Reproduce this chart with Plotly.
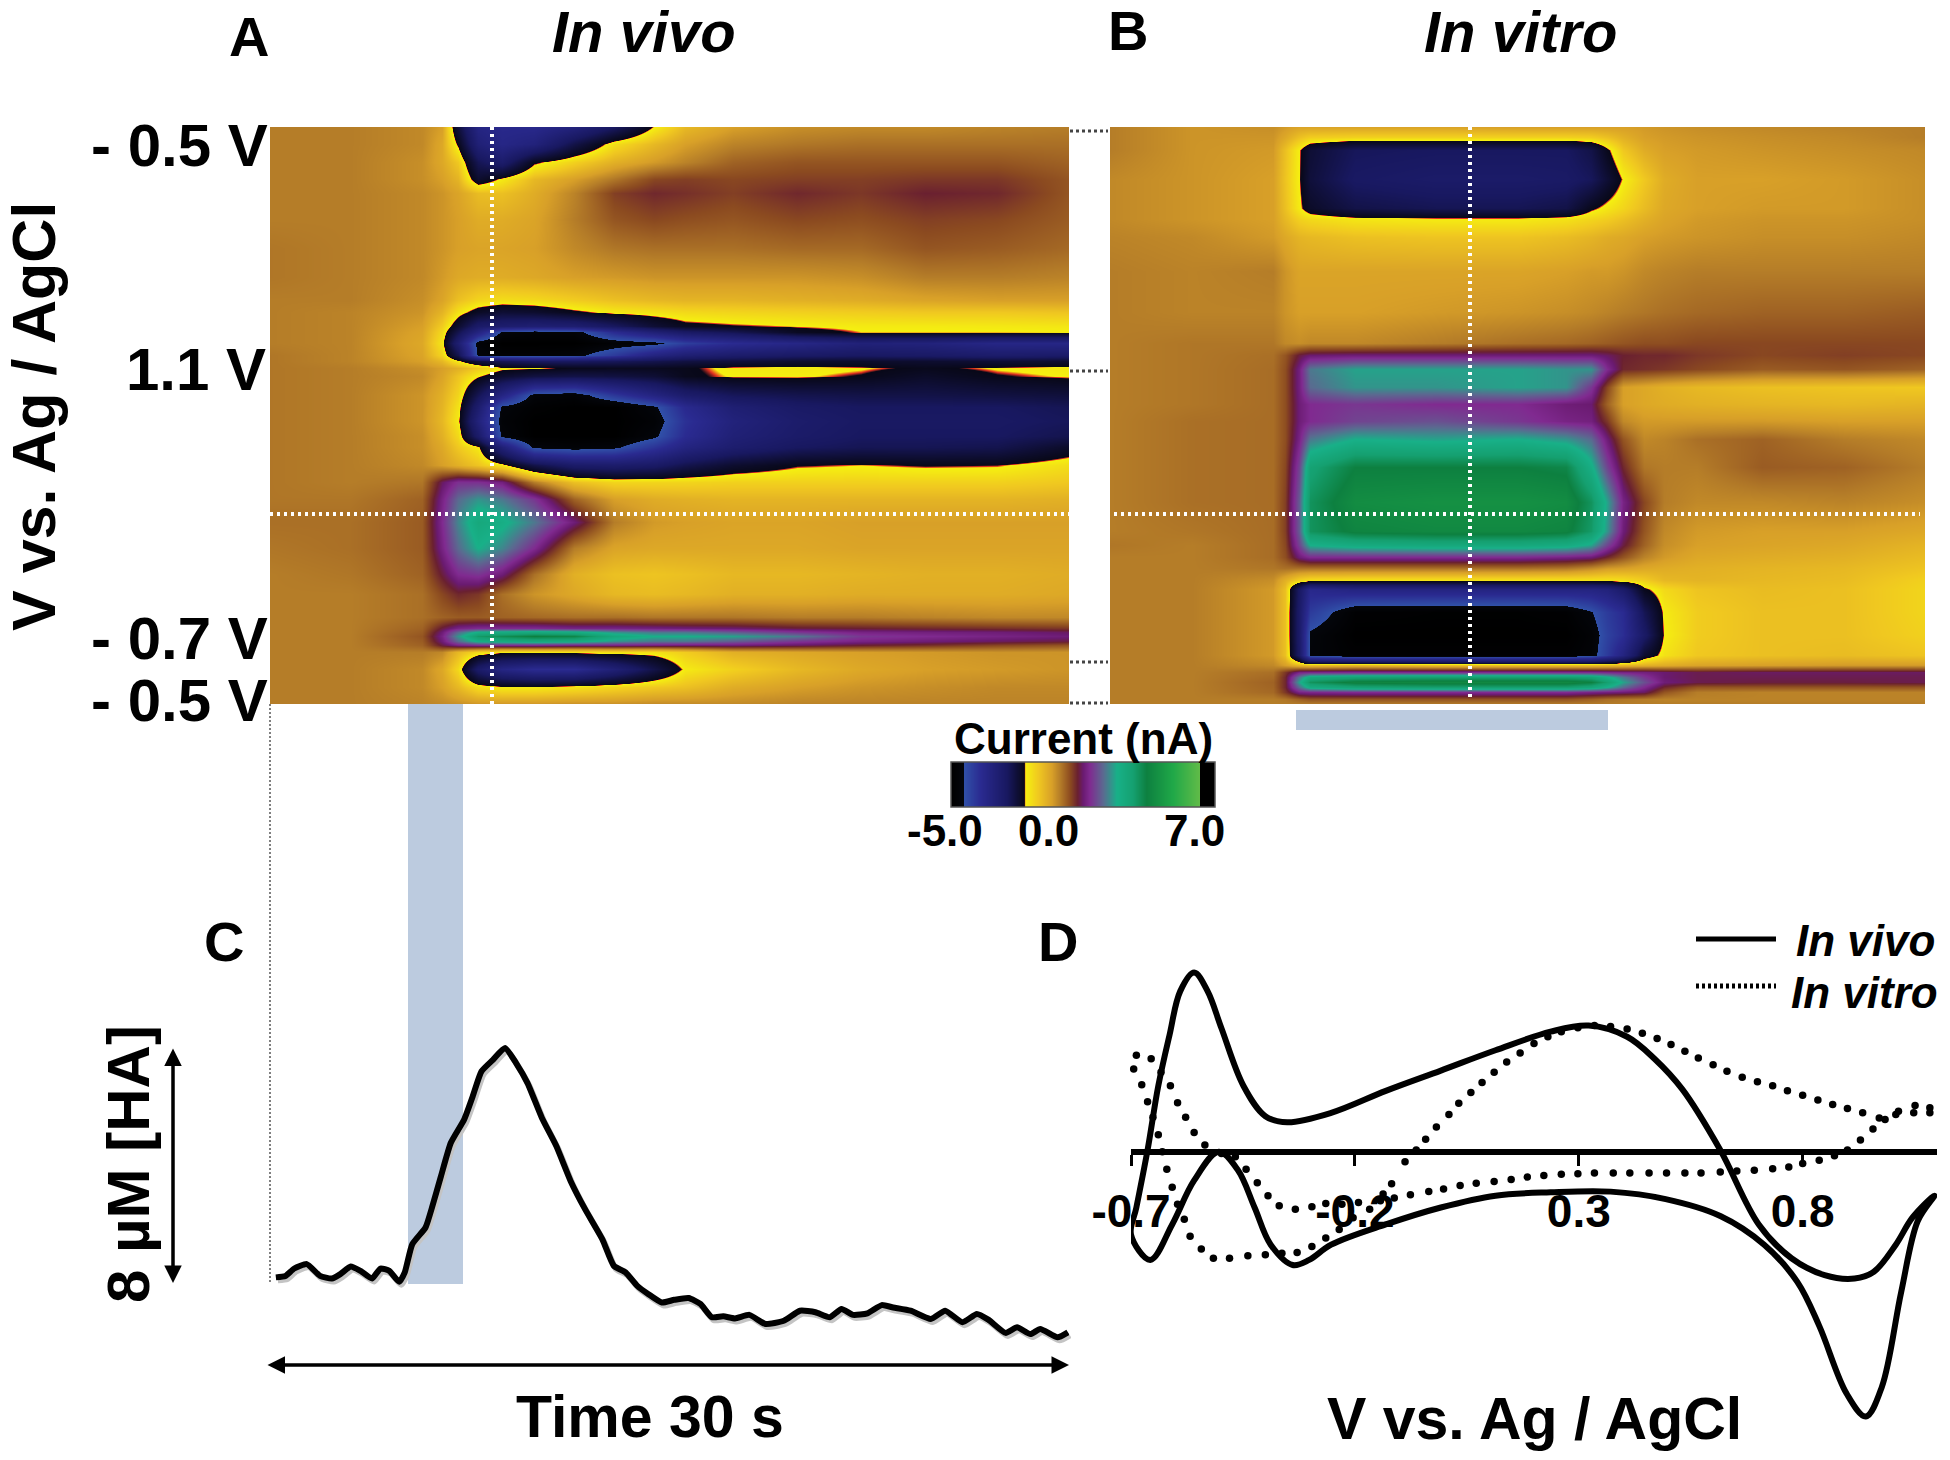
import numpy as np
import plotly.graph_objects as go

W, H = 1950, 1460
FONT = "Liberation Sans"

# ---------- colour key (nA -> colour) ----------
cs_z = [-5, -4.15, -4.14, -3, -1.2, -0.03, 0, 0.03, 0.5, 1.0, 1.3, 1.68, 1.95, 2.15, 2.4, 2.9, 3.4, 4.0, 4.5, 5.47, 6.45, 6.47, 7]
cs_c = ["#000000", "#04060c", "#3050a8", "#2a2a90", "#181860", "#080818", "#e03020", "#f5f010", "#f0c820", "#d8a028",
        "#b57d28", "#8b4a20", "#6a2030", "#6a1a70", "#802a90", "#5a6a90", "#18b088", "#15a070", "#0d8040", "#20a848",
        "#60bb48", "#000000", "#000000"]

# ---------- panel A: in vivo colour plot (nA), fractions of time / of scan ----------
a_cols = [0, .10, .19, .215, .235, .26, .29, .33, .38, .43, .48, .52, .58, .66, .74, .82, .91, 1.0]
a_rows = [0, .03, .06, .09, .115, .16, .21, .26, .30, .32, .345, .355, .375, .395, .405, .418, .432, .465, .485, .51, .535,
          .555, .585, .615, .645, .685, .73, .775, .81, .85, .868, .875, .883, .891, .898, .91, .94, .97, 1.0]
a_z = [
 [1.3,1.3,1.2,1.0,-0.6,-2.5,-2.8,-2.8,-2.2,-1.2,0.05,0.7,1.0,1.15,1.2,1.2,1.25,1.3],
 [1.3,1.3,1.2,0.9,-0.1,-2.0,-2.6,-2.2,-0.8,0.25,0.7,1.0,1.25,1.35,1.4,1.4,1.4,1.4],
 [1.3,1.3,1.15,0.9,0.5,-1.0,-1.6,-0.1,0.4,0.8,1.05,1.25,1.5,1.6,1.6,1.6,1.6,1.5],
 [1.3,1.3,1.15,1.0,0.75,-0.4,0.1,0.7,1.0,1.35,1.7,1.75,1.7,1.75,1.75,1.8,1.8,1.6],
 [1.3,1.3,1.2,1.1,0.95,0.65,0.6,0.85,1.25,1.75,1.9,1.85,1.75,1.9,1.8,1.95,1.9,1.6],
 [1.3,1.3,1.2,1.1,1.0,0.85,0.85,0.95,1.3,1.6,1.7,1.65,1.6,1.7,1.65,1.75,1.7,1.55],
 [1.35,1.3,1.2,1.1,1.0,0.95,0.95,1.0,1.2,1.35,1.4,1.4,1.4,1.45,1.45,1.6,1.55,1.45],
 [1.35,1.3,1.2,1.05,0.9,0.85,0.85,0.9,1.0,1.05,1.1,1.1,1.1,1.1,1.15,1.3,1.3,1.25],
 [1.3,1.3,1.15,0.95,0.6,0.35,0.25,0.3,0.45,0.6,0.7,0.75,0.75,0.8,0.85,0.95,1.0,1.0],
 [1.3,1.25,1.1,0.75,0.2,-0.25,-0.5,-0.4,-0.1,0.12,0.2,0.3,0.35,0.4,0.45,0.5,0.5,0.55],
 [1.3,1.25,1.0,0.45,-0.4,-1.5,-1.7,-1.9,-1.8,-1.2,-0.5,-0.15,-0.05,0.03,0.1,0.1,0.12,0.15],
 [1.3,1.25,0.95,0.3,-0.9,-2.4,-4.3,-4.6,-4.5,-3.0,-2,-1.4,-1,-0.2,0.02,0.02,0.02,0.03],
 [1.3,1.25,0.9,0.15,-1.8,-4.5,-5,-5,-5,-4.6,-4.4,-3.6,-3,-2.6,-2.1,-2.2,-2.6,-2.6],
 [1.35,1.25,0.95,0.35,-0.9,-4.3,-4.6,-4.6,-4.4,-3.5,-2.4,-1.9,-1.6,-1.4,-1.3,-1.4,-1.6,-1.5],
 [1.35,1.25,1.0,0.7,0.1,-0.6,-1.0,-1.2,-1.2,-1.1,-0.9,-0.7,-0.6,-0.4,-0.35,-0.4,-0.5,-0.4],
 [1.35,1.3,1.15,1.0,0.8,0.5,0.1,0.05,-0.1,-0.15,-0.15,-0.08,0.1,0.12,0.05,-0.1,0.05,0.12],
 [1.35,1.3,1.2,0.95,0.55,0.05,-0.4,-0.7,-0.8,-0.7,-0.5,-0.1,0.05,0.06,-0.05,-0.3,-0.05,0.05],
 [1.35,1.3,1.1,0.8,0.35,-1.0,-2.5,-4.4,-4.6,-3.4,-2.4,-1.6,-1.1,-0.9,-0.8,-0.8,-0.7,-0.6],
 [1.35,1.3,1.1,0.75,0.2,-1.7,-4.3,-4.8,-5,-5,-4.3,-2.9,-1.9,-1.4,-1.2,-1.2,-1.2,-1.0],
 [1.35,1.3,1.1,0.7,0.1,-2.2,-4.5,-5,-5,-5,-4.6,-3.2,-2.2,-1.6,-1.3,-1.3,-1.3,-1.1],
 [1.35,1.3,1.15,0.8,0.3,-1.5,-4.3,-5,-5,-5,-4.3,-3,-2.0,-1.5,-1.2,-1.2,-1.2,-0.9],
 [1.35,1.3,1.15,0.9,0.5,0.1,-2,-4.3,-4.5,-4.3,-3.3,-2.4,-1.7,-1.2,-1.0,-1.0,-0.9,-0.3],
 [1.35,1.3,1.2,1.0,0.8,0.55,0.15,-0.8,-1.5,-1.6,-1.4,-0.9,-0.4,-0.05,0.02,-0.05,-0.02,0.25],
 [1.35,1.3,1.35,2.1,2.45,2.45,2.25,1.3,0.6,0.35,0.35,0.35,0.4,0.4,0.4,0.4,0.4,0.5],
 [1.35,1.35,1.5,2.3,2.9,3.2,3.0,2.5,1.5,1.0,0.85,0.8,0.75,0.75,0.75,0.75,0.75,0.8],
 [1.4,1.4,1.55,2.4,3.1,3.7,3.5,3.0,2.2,1.3,1.05,1.0,0.95,0.95,1.0,1.0,1.0,1.0],
 [1.35,1.4,1.55,2.3,2.9,3.4,3.1,2.4,1.3,0.95,0.9,0.9,0.9,0.9,0.95,0.95,0.95,0.95],
 [1.3,1.35,1.5,2.0,2.4,2.5,2.2,1.4,0.8,0.6,0.55,0.6,0.7,0.7,0.75,0.8,0.8,0.85],
 [1.3,1.3,1.4,1.7,1.9,1.8,1.4,1.1,0.9,0.7,0.65,0.7,0.8,0.8,0.85,0.85,0.85,0.9],
 [1.3,1.3,1.4,1.5,1.55,1.55,1.5,1.45,1.4,1.4,1.35,1.35,1.35,1.3,1.3,1.25,1.2,1.2],
 [1.3,1.3,1.5,2.0,2.3,2.4,2.4,2.4,2.3,2.3,2.25,2.2,2.15,2.0,1.95,1.9,1.85,1.8],
 [1.3,1.3,1.55,2.2,2.9,3.5,3.6,3.7,3.6,3.2,3.0,3.0,2.8,2.5,2.3,2.25,2.2,2.1],
 [1.3,1.3,1.6,2.3,3.2,4.1,4.3,4.5,4.4,3.7,3.4,3.4,3.3,3.0,2.5,2.4,2.3,2.2],
 [1.3,1.3,1.55,2.2,2.9,3.5,3.6,3.7,3.6,3.2,3.0,3.0,2.8,2.5,2.3,2.2,2.1,2.0],
 [1.3,1.3,1.5,2.0,2.3,2.4,2.4,2.4,2.3,2.3,2.25,2.2,2.2,2.1,1.95,1.85,1.7,1.6],
 [1.3,1.3,1.3,1.2,0.7,0.3,0.1,0.1,0.15,0.2,0.2,0.45,0.8,0.9,1.0,1.05,1.1,1.1],
 [1.3,1.3,1.2,0.9,0.3,-1.5,-2.5,-3,-3,-2,-0.8,0.1,0.4,0.7,0.9,1.0,1.05,1.1],
 [1.3,1.3,1.2,1.0,0.7,0.25,0.1,0.1,0.2,0.35,0.5,0.6,0.85,1.0,1.1,1.15,1.2,1.2],
 [1.3,1.3,1.25,1.2,1.15,1.1,1.1,1.1,1.15,1.15,1.2,1.2,1.2,1.25,1.25,1.25,1.25,1.25],
]

# ---------- panel B: in vitro colour plot (nA) ----------
b_cols = [0, .10, .20, .215, .232, .245, .30, .40, .50, .56, .59, .61, .63, .655, .68, .72, .80, .90, 1.0]
b_rows = [0, .018, .04, .09, .14, .16, .19, .25, .32, .375, .395, .42, .45, .48, .51, .54, .59, .65, .70, .725, .745,
          .765, .785, .80, .84, .88, .915, .933, .945, .953, .962, .971, .98, .992, 1.0]
b_z = [
 [1.3,1.1,1.15,1.05,0.95,0.95,0.95,0.95,1.0,1.0,1.0,1.0,1.0,1.05,1.1,1.15,1.2,1.25,1.3],
 [1.3,1.1,1.1,0.9,0.6,0.45,0.4,0.4,0.4,0.4,0.45,0.6,0.8,1.0,1.05,1.1,1.15,1.2,1.3],
 [1.3,1.1,1.05,0.6,0.05,-0.5,-1.1,-1.2,-1.2,-1.2,-0.8,-0.1,0.5,0.85,1.0,1.05,1.1,1.15,1.2],
 [1.2,1.1,1.0,0.55,0.03,-0.6,-1.3,-1.5,-1.5,-1.4,-1.1,-0.5,0.05,0.5,0.85,1.0,1.0,1.05,1.15],
 [1.2,1.1,1.0,0.6,0.1,-0.3,-0.8,-1.0,-1.0,-0.8,-0.1,0.15,0.35,0.65,0.9,1.0,1.05,1.05,1.15],
 [1.2,1.1,1.0,0.7,0.4,0.3,0.15,0.1,0.1,0.2,0.35,0.45,0.6,0.8,0.95,1.05,1.1,1.1,1.15],
 [1.25,1.2,1.05,0.9,0.75,0.7,0.6,0.55,0.55,0.65,0.75,0.85,0.9,1.0,1.05,1.1,1.15,1.15,1.2],
 [1.3,1.25,1.3,1.1,0.95,0.95,0.95,0.95,0.95,1.0,1.05,1.05,1.1,1.2,1.25,1.3,1.3,1.3,1.3],
 [1.3,1.25,1.25,1.1,1.0,1.0,1.0,1.05,1.1,1.15,1.2,1.25,1.3,1.35,1.4,1.45,1.5,1.5,1.55],
 [1.3,1.35,1.35,1.2,1.15,1.2,1.2,1.3,1.4,1.45,1.5,1.55,1.6,1.65,1.65,1.7,1.7,1.7,1.7],
 [1.3,1.35,1.4,1.6,2.0,2.15,2.2,2.2,2.2,2.2,2.2,2.1,1.95,1.9,1.9,1.8,1.7,1.75,1.7],
 [1.3,1.35,1.42,1.65,2.25,3.0,3.3,3.3,3.3,3.2,3.2,2.4,1.9,1.85,1.8,1.7,1.55,1.6,1.5],
 [1.3,1.35,1.42,1.65,2.25,2.9,3.2,3.2,3.3,3.2,2.5,1.7,1.0,0.9,0.8,0.7,0.6,0.55,0.5],
 [1.3,1.35,1.42,1.65,2.2,2.4,2.5,2.4,2.4,2.2,2.15,1.5,1.0,0.9,0.85,0.8,0.75,0.7,0.75],
 [1.3,1.4,1.42,1.65,2.2,2.4,2.6,2.7,2.5,2.3,2.25,1.8,1.2,1.05,1.05,1.05,1.05,1.0,1.0],
 [1.3,1.4,1.42,1.65,2.3,3.0,3.4,3.3,3.4,3.2,2.9,2.2,1.6,1.2,1.25,1.4,1.5,1.3,1.2],
 [1.3,1.4,1.42,1.7,2.6,3.9,4.5,4.5,4.5,4.4,3.5,2.6,1.9,1.35,1.3,1.3,1.55,1.5,1.3],
 [1.3,1.4,1.42,1.75,2.8,4.2,4.8,4.9,4.9,4.8,4.2,3.3,2.3,1.7,1.3,1.2,1.2,1.25,1.15],
 [1.3,1.35,1.42,1.75,2.8,4.2,4.6,4.7,4.7,4.6,4.1,3.2,2.2,1.6,1.2,1.05,1.0,1.0,0.9],
 [1.35,1.3,1.42,1.7,2.6,3.4,3.6,3.7,3.7,3.6,3.3,2.6,2.0,1.5,1.15,1.0,0.95,0.9,0.75],
 [1.3,1.3,1.42,1.65,2.2,2.4,2.4,2.4,2.4,2.3,2.2,1.9,1.6,1.25,1.05,0.9,0.85,0.8,0.65],
 [1.3,1.3,1.35,1.4,1.4,1.4,1.4,1.4,1.4,1.35,1.2,1.05,1.0,0.9,0.85,0.8,0.75,0.7,0.55],
 [1.3,1.3,1.15,0.8,0.4,0.25,0.2,0.2,0.2,0.2,0.2,0.2,0.25,0.45,0.7,0.75,0.7,0.65,0.4],
 [1.3,1.3,1.05,0.6,-1.3,-2.8,-2.4,-2.4,-2.4,-2.4,-2.4,-2.2,-1.5,-0.1,0.3,0.55,0.65,0.6,0.35],
 [1.3,1.3,1.05,0.6,-1.5,-3.5,-4.8,-4.9,-4.9,-4.8,-4.2,-3.5,-3.0,-1.0,0.1,0.45,0.6,0.6,0.35],
 [1.3,1.3,1.05,0.6,-1.5,-4.3,-5,-5,-5,-5,-4.6,-3.7,-3.1,-1.4,0.05,0.45,0.6,0.6,0.4],
 [1.3,1.3,1.05,0.6,-1.4,-4.4,-4.8,-4.8,-4.8,-4.8,-4.5,-3.5,-2.4,-0.4,0.2,0.5,0.6,0.65,0.55],
 [1.3,1.3,1.2,1.0,0.7,0.6,0.7,0.6,0.6,0.6,0.6,0.65,0.7,0.8,0.85,0.95,1.0,1.05,1.05],
 [1.3,1.3,1.4,1.8,2.3,2.35,2.4,2.4,2.4,2.4,2.4,2.35,2.3,2.25,2.15,2.05,2.1,2.1,2.1],
 [1.3,1.3,1.45,1.9,3.0,3.7,3.9,4.0,4.0,4.0,3.9,3.5,3.0,2.5,2.15,2.05,2.05,2.05,2.05],
 [1.3,1.3,1.5,1.9,3.3,4.2,4.6,4.7,4.7,4.7,4.5,4.0,3.3,2.7,2.2,2.05,2.0,2.0,2.05],
 [1.3,1.3,1.48,1.9,2.9,3.6,3.9,4.0,4.0,4.0,3.8,3.4,2.9,2.4,1.9,1.6,1.6,1.6,1.6],
 [1.3,1.3,1.45,1.8,2.3,2.35,2.4,2.4,2.4,2.4,2.3,2.25,2.2,2.1,1.6,1.3,1.25,1.25,1.25],
 [1.3,1.3,1.3,1.35,1.5,1.6,1.6,1.6,1.6,1.6,1.5,1.4,1.35,1.3,1.25,1.25,1.25,1.25,1.25],
 [1.3,1.3,1.3,1.3,1.3,1.3,1.3,1.3,1.3,1.3,1.3,1.3,1.3,1.3,1.3,1.3,1.3,1.3,1.3],
]

# ---------- panel C: concentration trace ----------
c_time = [0.22,0.58,0.91,1.38,1.88,2.32,2.64,3.03,3.40,3.83,4.15,4.48,4.85,5.06,5.34,5.84,6.10,6.42,6.79,7.29,7.61,7.94,
          8.37,8.82,9.24,9.67,10.21,10.75,11.29,11.83,12.48,12.91,13.35,13.78,14.21,14.71,15.18,15.72,16.16,16.59,17.02,
          17.46,18.0,18.6,19.29,19.9,20.48,21.02,21.46,21.89,22.43,22.97,23.4,24.05,24.81,25.35,26.0,26.54,26.97,27.62,
          28.05,28.55,28.92,29.57,29.96]
c_conc = [-.01,.04,.29,.44,.04,-.05,.1,.36,.21,-.05,.29,.21,-.16,.16,1.11,1.68,2.41,3.42,4.55,5.34,6.12,6.97,7.36,7.76,
          7.25,6.57,5.39,4.44,3.25,2.3,1.28,.38,.16,-.29,-.58,-.86,-.77,-.71,-.91,-1.36,-1.33,-1.40,-1.28,-1.59,-1.48,
          -1.14,-1.19,-1.36,-1.08,-1.28,-1.23,-.95,-1.03,-1.14,-1.42,-1.14,-1.53,-1.25,-1.44,-1.89,-1.7,-1.93,-1.76,-2.04,-1.87]

# ---------- panel D: cyclic voltammograms ----------
vivo_v = [-.70,-.657,-.608,-.559,-.504,-.461,-.424,-.388,-.339,-.302,-.253,-.131,-.008,.114,.237,.371,.494,.616,.714,.788,
          .837,.898,.941,.977,1.020,1.057,1.094,1.045,1.008,.959,.916,.849,.775,.702,.616,.531,.469,.408,.322,.237,.114,
          -.008,-.131,-.253,-.351,-.400,-.449,-.498,-.529,-.559,-.590,-.614,-.639,-.663,-.688,-.70]
vivo_i = [-2.44,-3.19,-2.14,-.84,.01,-.54,-1.64,-2.74,-3.34,-3.19,-2.74,-2.14,-1.64,-1.29,-1.19,-1.17,-1.39,-1.89,-2.74,
          -3.84,-5.14,-7.14,-7.82,-6.94,-4.14,-2.04,-1.29,-1.94,-2.74,-3.54,-3.74,-3.64,-3.14,-2.14,.06,1.86,2.76,3.41,
          3.74,3.56,3.01,2.41,1.81,1.16,.88,1.06,1.96,3.66,4.76,5.31,4.76,3.46,1.96,.06,-1.64,-2.44]
vitro_v = [-.688,-.694,-.676,-.663,-.651,-.639,-.630,-.620,-.608,-.596,-.581,-.568,-.543,-.516,-.480,-.439,-.400,-.363,
           -.329,-.296,-.265,-.235,-.204,-.167,-.137,-.118,-.088,-.063,-.042,-.018,.010,.032,.059,.084,.111,.139,.169,.200,
           .231,.261,.298,.335,.371,.408,.442,.475,.506,.537,.567,.600,.631,.665,.699,.733,.766,.800,.834,.867,.900,.934,
           .971,1.008,1.048,1.084,1.084,1.051,1.014,.984,.957,.929,.900,.871,.837,.800,.769,.733,.692,.653,.616,.573,.537,
           .496,.457,.414,.377,.335,.298,.261,.222,.185,.149,.111,.071,.035,-.002,-.035,-.076,-.112,-.143,-.192,-.229,
           -.265,-.296,-.333,-.369,-.394,-.418,-.443,-.467,-.498,-.535,-.559,-.578,-.596,-.612,-.633,-.655]
vitro_i = [2.86,2.46,1.99,1.49,1.03,.51,.01,-.51,-1.04,-1.54,-1.99,-2.49,-2.87,-3.14,-3.14,-3.07,-3.04,-2.99,-2.97,-2.79,
           -2.54,-2.29,-1.94,-1.69,-1.24,-.94,-.29,.06,.38,.74,1.11,1.44,1.76,2.06,2.36,2.66,2.93,3.21,3.41,3.56,3.68,3.74,
           3.71,3.64,3.51,3.36,3.18,2.98,2.78,2.58,2.39,2.21,2.08,1.96,1.81,1.68,1.54,1.41,1.29,1.16,1.01,1.11,1.16,1.16,
           1.31,1.38,1.21,.96,.68,.36,.06,-.11,-.24,-.34,-.44,-.49,-.54,-.56,-.59,-.62,-.62,-.62,-.62,-.62,-.62,-.62,-.64,
           -.66,-.69,-.74,-.81,-.87,-.92,-.99,-1.09,-1.17,-1.26,-1.36,-1.44,-1.49,-1.54,-1.52,-1.62,-1.69,-1.59,-1.29,-.91,
           -.51,-.14,-.04,.21,.58,1.03,1.46,1.96,2.36,2.76]
d_ticks = [-0.7, -0.2, 0.3, 0.8]
d_ticklabels = ["-0.7", "-0.2", "0.3", "0.8"]

# ---------- helpers ----------
zmin, zmax = -5, 7
colorscale = [[(z - zmin) / (zmax - zmin), c] for z, c in zip(cs_z, cs_c)]
def dx(a, b): return [a / W, b / W]
def dy(top, bottom): return [1 - bottom / H, 1 - top / H]
def px(x): return x / W
def py(y): return 1 - y / H

fig = go.Figure()
hm = dict(zmin=zmin, zmax=zmax, colorscale=colorscale, showscale=False, zsmooth="best", hoverinfo="skip")
fig.add_trace(go.Heatmap(x=a_cols, y=a_rows, z=a_z, xaxis="x", yaxis="y", **hm))
fig.add_trace(go.Heatmap(x=b_cols, y=b_rows, z=b_z, xaxis="x2", yaxis="y2", **hm))

# colour bar: its left part (-5..0) is compressed relative to the right part (0..7)
bar_pos = np.linspace(0, 1, 264)
bar_z = np.interp(bar_pos, [0, 0.279, 1], [-5, 0, 7])
fig.add_trace(go.Heatmap(x=bar_pos, y=[0], z=[bar_z], xaxis="x3", yaxis="y3", zmin=zmin, zmax=zmax,
                         colorscale=colorscale, showscale=False, hoverinfo="skip"))

# panel C, with soft shadow (shadow subplot is drawn first, below the trace)
fig.add_trace(go.Scatter(x=c_time, y=c_conc, mode="lines", xaxis="x4", yaxis="y4", showlegend=False,
                         line=dict(color="#c4c4c4", width=6, shape="spline", smoothing=0.5), hoverinfo="skip"))
fig.add_trace(go.Scatter(x=c_time, y=c_conc, mode="lines", xaxis="x5", yaxis="y5", showlegend=False,
                         line=dict(color="#000000", width=6, shape="spline", smoothing=0.5)))
# panel D
fig.add_trace(go.Scatter(x=vivo_v, y=vivo_i, mode="lines", xaxis="x6", yaxis="y6", name="In vivo", showlegend=False,
                         line=dict(color="#000000", width=6, shape="spline", smoothing=1.0), cliponaxis=False))
fig.add_trace(go.Scatter(x=vitro_v, y=vitro_i, mode="markers", xaxis="x6", yaxis="y6", name="In vitro", showlegend=False,
                         marker=dict(color="#000000", size=7.5), cliponaxis=False))

hidden = dict(visible=False, showgrid=False, zeroline=False)
layout_axes = dict(
    xaxis=dict(domain=dx(270, 1069), range=[0, 1], **hidden),
    yaxis=dict(domain=dy(127, 704), range=[1, 0], **hidden),
    xaxis2=dict(domain=dx(1110, 1925), range=[0, 1], **hidden),
    yaxis2=dict(domain=dy(127, 704), range=[1, 0], **hidden),
    xaxis3=dict(domain=dx(951, 1215), range=[0, 1], **hidden),
    yaxis3=dict(domain=dy(762, 807), range=[-0.5, 0.5], **hidden),
    xaxis4=dict(domain=dx(272, 1071), range=[0, 30], **hidden),
    yaxis4=dict(domain=dy(1033, 1353), range=[-2.47, 8.37], **hidden),
    xaxis5=dict(domain=dx(270, 1069), range=[0, 30], **hidden),
    yaxis5=dict(domain=dy(1030, 1350), range=[-2.47, 8.37], **hidden),
    xaxis6=dict(domain=dx(1131, 1937), range=[-0.7, 1.1], showgrid=False, zeroline=False,
                anchor="free", position=py(1152), side="bottom", showline=True, linecolor="#000000", linewidth=6,
                ticks="outside", ticklen=11, tickwidth=3, tickcolor="#000000",
                tickmode="array", tickvals=d_ticks, ticktext=d_ticklabels, ticklabelstandoff=6,
                tickfont=dict(family=FONT, size=46, color="#000000", weight=700)),
    yaxis6=dict(domain=dy(960, 1430), range=[-8.22, 5.68], **hidden),
)

# ---------- shapes ----------
shapes = []
def rect(x0, y0, x1, y1, fill, line=None, lw=0, layer="below"):
    shapes.append(dict(type="rect", xref="paper", yref="paper", x0=px(x0), x1=px(x1), y0=py(y0), y1=py(y1),
                       fillcolor=fill, line=dict(color=line or fill, width=lw), layer=layer))
def seg(x0, y0, x1, y1, color, width, dash="solid"):
    shapes.append(dict(type="line", xref="paper", yref="paper", x0=px(x0), x1=px(x1), y0=py(y0), y1=py(y1),
                       line=dict(color=color, width=width, dash=dash), layer="above"))

rect(408, 704, 463, 1284, "#bccbdf")
rect(1296, 710, 1608, 730, "#bccbdf")
rect(951, 762, 1215, 807, "rgba(0,0,0,0)", "#555555", 1.5, "above")

DOT = "3px,4px"
seg(492, 127, 492, 704, "#ffffff", 4, DOT)
seg(270, 514, 1069, 514, "#ffffff", 4, DOT)
seg(1470, 127, 1470, 699, "#ffffff", 4, DOT)
seg(1114, 514, 1920, 514, "#ffffff", 4, DOT)
seg(270, 704, 270, 1284, "#555555", 1.5, "2px,2px")
for yy in (131, 371, 662, 703):
    seg(1070, yy, 1108, yy, "#444444", 3, "3px,3px")
seg(1696, 939, 1776, 939, "#000000", 5)
seg(1696, 986, 1776, 986, "#000000", 5, "3px,3px")

# ---------- text ----------
ann = []
def text(s, x, y, size, italic=False, rot=0, xa="center"):
    ann.append(dict(text=s, x=px(x), y=py(y), xref="paper", yref="paper", showarrow=False, textangle=rot,
                    xanchor=xa, yanchor="middle",
                    font=dict(family=FONT, size=size, color="#000000", weight=700,
                              style="italic" if italic else "normal")))
def arrow(x0, y0, x1, y1):
    ann.append(dict(x=px(x1), y=py(y1), ax=x0 - x1, ay=y0 - y1, xref="paper", yref="paper", axref="pixel", ayref="pixel",
                    text="", showarrow=True, arrowhead=2, startarrowhead=2, arrowside="end+start", arrowwidth=3.5,
                    arrowsize=1, startarrowsize=1, arrowcolor="#000000"))

text("A", 249, 36, 56)
text("B", 1128, 31, 56)
text("C", 224, 941, 56)
text("D", 1058, 941, 56)
text("In vivo", 644, 31.5, 58, italic=True)
text("In vitro", 1520, 31.5, 58, italic=True)
text("- 0.5 V", 270, 146, 60, xa="right")
text("1.1 V", 268, 369, 60, xa="right")
text("- 0.7 V", 270, 639, 60, xa="right")
text("- 0.5 V", 270, 701, 60, xa="right")
text("V vs. Ag / AgCl", 34, 417, 61, rot=-90)
text("Current (nA)", 1083, 738, 44)
text("-5.0", 945, 830, 44)
text("0.0", 1048, 830, 44)
text("7.0", 1194, 830, 44)
text("8 µM [HA]", 128, 1164, 60, rot=-90)
text("Time 30 s", 650, 1417, 59)
text("V vs. Ag / AgCl", 1534, 1419, 59)
text("In vivo", 1937, 940, 44, italic=True, xa="right")
text("In vitro", 1940, 992, 44, italic=True, xa="right")
arrow(173, 1047, 173, 1283)
arrow(266, 1365, 1069, 1365)

fig.update_layout(width=W, height=H, margin=dict(l=0, r=0, t=0, b=0, autoexpand=False), autosize=False, paper_bgcolor="#ffffff",
                  plot_bgcolor="rgba(0,0,0,0)", showlegend=False, shapes=shapes, annotations=ann, **layout_axes)
fig.write_html("out.html", post_script="document.body.style.margin='0';", config=dict(displayModeBar=False))
